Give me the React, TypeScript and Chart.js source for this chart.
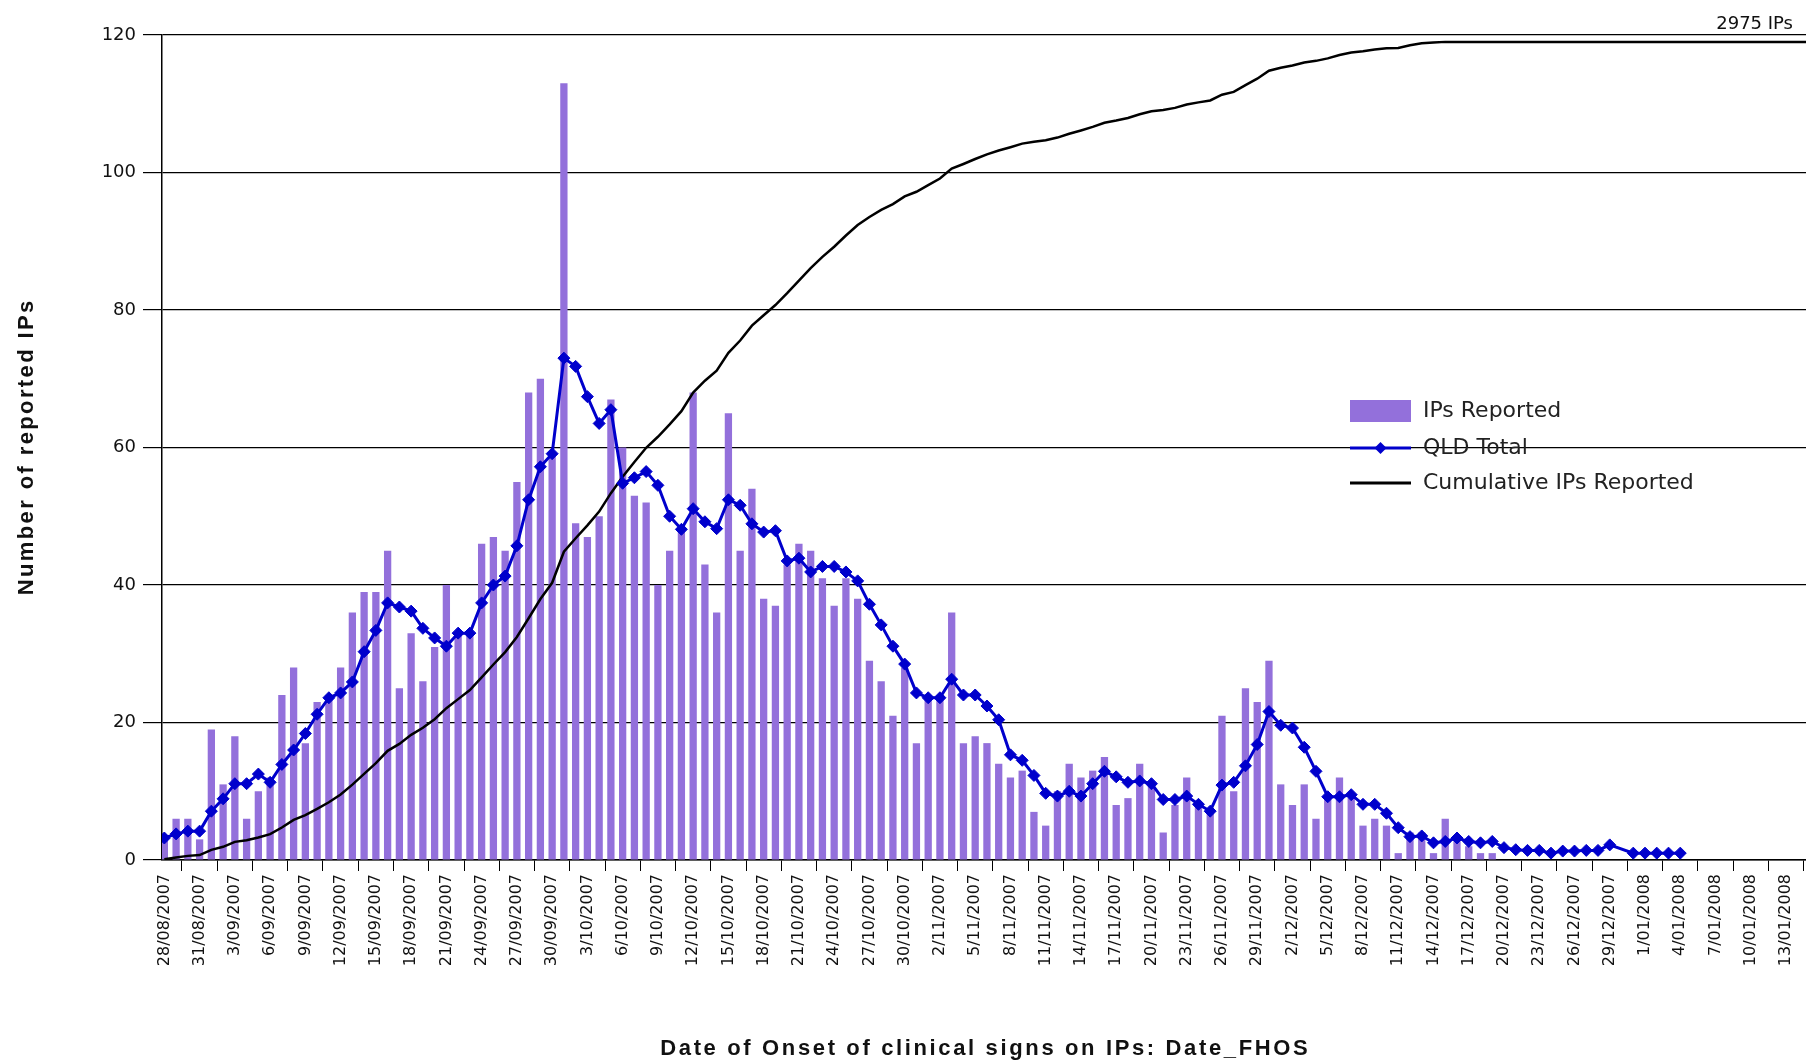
import { useEffect, useRef } from "react";
import { Chart, registerables } from "chart.js";

Chart.register(...registerables);

// x tick labels, one every 3 days starting 28/08/2007 (day index 0)
const tickLabels = [
  "28/08/2007", "31/08/2007", "3/09/2007", "6/09/2007", "9/09/2007", "12/09/2007",
  "15/09/2007", "18/09/2007", "21/09/2007", "24/09/2007", "27/09/2007", "30/09/2007",
  "3/10/2007", "6/10/2007", "9/10/2007", "12/10/2007", "15/10/2007", "18/10/2007",
  "21/10/2007", "24/10/2007", "27/10/2007", "30/10/2007", "2/11/2007", "5/11/2007",
  "8/11/2007", "11/11/2007", "14/11/2007", "17/11/2007", "20/11/2007", "23/11/2007",
  "26/11/2007", "29/11/2007", "2/12/2007", "5/12/2007", "8/12/2007", "11/12/2007",
  "14/12/2007", "17/12/2007", "20/12/2007", "23/12/2007", "26/12/2007", "29/12/2007",
  "1/01/2008", "4/01/2008", "7/01/2008", "10/01/2008", "13/01/2008",
];
const tickEveryDays = 3;

// Daily IPs reported (day 0 = 28/08/2007)
const ipsReported = [
  3, 6, 6, 3, 19, 11, 18, 6, 10, 12,
  24, 28, 17, 23, 24, 28, 36, 39, 39, 45,
  25, 33, 26, 31, 40, 33, 33, 46, 47, 45,
  55, 68, 70, 59, 113, 49, 47, 50, 67, 60,
  53, 52, 40, 45, 48, 68, 43, 36, 65, 45,
  54, 38, 37, 43, 46, 45, 41, 37, 41, 38,
  29, 26, 21, 28, 17, 24, 24, 36, 17, 18,
  17, 14, 12, 13, 7, 5, 10, 14, 12, 13,
  15, 8, 9, 14, 11, 4, 8, 12, 8, 7,
  21, 10, 25, 23, 29, 11, 8, 11, 6, 9,
  12, 9, 5, 6, 5, 1, 4, 4, 1, 6,
  3, 2, 1, 1,
];

// QLD Total (day 0 .. day 129), null = no value that day
const qldTotal = [
  3.2, 3.8, 4.2, 4.2, 7.1, 8.9, 11.1, 11.1, 12.5, 11.3,
  13.9, 16, 18.4, 21.2, 23.6, 24.3, 25.9, 30.3, 33.4, 37.4,
  36.8, 36.2, 33.7, 32.3, 31.1, 33, 33, 37.4, 40, 41.3,
  45.7, 52.4, 57.2, 59.1, 73, 71.8, 67.4, 63.5, 65.5, 54.8,
  55.6, 56.5, 54.5, 50, 48.1, 51.1, 49.2, 48.2, 52.4, 51.6,
  48.9, 47.7, 47.9, 43.5, 43.9, 41.9, 42.7, 42.7, 41.9, 40.6,
  37.2, 34.2, 31.1, 28.5, 24.3, 23.6, 23.6, 26.3, 24, 24,
  22.4, 20.4, 15.3, 14.5, 12.3, 9.7, 9.3, 10, 9.3, 11.1,
  12.9, 12.1, 11.3, 11.5, 11.1, 8.8, 8.8, 9.3, 8.1, 7.1,
  10.9, 11.3, 13.7, 16.8, 21.6, 19.6, 19.2, 16.4, 12.9, 9.2,
  9.2, 9.5, 8.1, 8.1, 6.8, 4.7, 3.4, 3.5, 2.5, 2.7,
  3.2, 2.7, 2.5, 2.7, 1.8, 1.5, 1.4, 1.4, 1, 1.3,
  1.3, 1.4, 1.4, 2.2, null, 1, 1, 1, 1, 1,
];

// Cumulative IPs reported (day 0 .. day 140)
const cumulativeIPs = [
  3, 9, 15, 18, 37, 48, 66, 72, 82, 94,
  118, 146, 163, 186, 210, 238, 274, 313, 352, 397,
  422, 455, 481, 512, 552, 585, 618, 664, 711, 756,
  811, 879, 949, 1008, 1121, 1170, 1217, 1267, 1334, 1394,
  1447, 1499, 1539, 1584, 1632, 1700, 1743, 1779, 1844, 1889,
  1943, 1981, 2018, 2061, 2107, 2152, 2193, 2230, 2271, 2309,
  2338, 2364, 2385, 2413, 2430, 2454, 2478, 2514, 2531, 2549,
  2566, 2580, 2592, 2605, 2612, 2617, 2627, 2641, 2653, 2666,
  2681, 2689, 2698, 2712, 2723, 2727, 2735, 2747, 2755, 2762,
  2783, 2793, 2818, 2841, 2870, 2881, 2889, 2900, 2906, 2915,
  2927, 2936, 2941, 2947, 2952, 2953, 2963, 2970, 2973, 2975,
  2975, 2975, 2975, 2975, 2975, 2975, 2975, 2975, 2975, 2975,
  2975, 2975, 2975, 2975, 2975, 2975, 2975, 2975, 2975, 2975,
  2975, 2975, 2975, 2975, 2975, 2975, 2975, 2975, 2975, 2975,
  2975,
];

const BAR_COLOR = "#9370DB";
const QLD_COLOR = "#0000CC";
const CUM_COLOR = "#000000";

function fillSpaced(ctx: any, text: string, x: number, y: number, target: number) {
  ctx.letterSpacing = "0px";
  const w = ctx.measureText(text).width;
  const s = Math.max(0, (target - w) / text.length);
  ctx.letterSpacing = s.toFixed(2) + "px";
  ctx.fillText(text, x + s / 2, y);
  ctx.letterSpacing = "0px";
}

const overlayPlugin = {
  id: "overlayTexts",
  afterDraw(chart: any) {
    const ctx = chart.ctx;
    const ds = chart.data.datasets;
    ctx.save();

    // total label at top right
    const total = cumulativeIPs[cumulativeIPs.length - 1];
    ctx.font = '18px "DejaVu Sans"';
    ctx.fillStyle = "#111";
    ctx.textAlign = "right";
    ctx.textBaseline = "alphabetic";
    ctx.fillText(`${total} IPs`, 1793, 29);

    // legend
    const lx = 1350, lw = 61;
    const rows = [411, 448, 483];
    ctx.fillStyle = BAR_COLOR;
    ctx.fillRect(lx, rows[0] - 11, lw, 22);
    ctx.strokeStyle = QLD_COLOR;
    ctx.lineWidth = 3;
    ctx.beginPath();
    ctx.moveTo(lx, rows[1]);
    ctx.lineTo(lx + lw, rows[1]);
    ctx.stroke();
    ctx.fillStyle = QLD_COLOR;
    ctx.beginPath();
    const cx = lx + lw / 2;
    ctx.moveTo(cx, rows[1] - 6);
    ctx.lineTo(cx + 6, rows[1]);
    ctx.lineTo(cx, rows[1] + 6);
    ctx.lineTo(cx - 6, rows[1]);
    ctx.closePath();
    ctx.fill();
    ctx.strokeStyle = CUM_COLOR;
    ctx.lineWidth = 3;
    ctx.beginPath();
    ctx.moveTo(lx, rows[2]);
    ctx.lineTo(lx + lw, rows[2]);
    ctx.stroke();

    ctx.font = '22px "DejaVu Sans"';
    ctx.fillStyle = "#222";
    ctx.textAlign = "left";
    ctx.textBaseline = "middle";
    const order = ["IPs Reported", "QLD Total", "Cumulative IPs Reported"];
    order.forEach((lab, i) => {
      const d = ds.find((x: any) => x.label === lab);
      ctx.fillText(d ? d.label : lab, 1423, rows[i]);
    });

    // axis titles
    ctx.fillStyle = "#111";
    ctx.font = 'bold 22px "Liberation Sans Narrow", "Liberation Sans", sans-serif';
    ctx.textAlign = "center";
    ctx.textBaseline = "middle";
    fillSpaced(ctx, "Date of Onset of clinical signs on IPs: Date_FHOS", 984, 1049, 650);

    ctx.save();
    ctx.translate(27, 448);
    ctx.rotate(-Math.PI / 2);
    fillSpaced(ctx, "Number of reported IPs", 0, 0, 297);
    ctx.restore();

    ctx.restore();
  },
};

export default function App() {
  const ref = useRef<HTMLCanvasElement>(null);

  useEffect(() => {
    if (!ref.current) return;
    const chart = new Chart(ref.current, {
      type: "bar",
      data: {
        datasets: [
          {
            type: "line",
            label: "QLD Total",
            data: qldTotal.map((v, i) => ({ x: i, y: v })),
            borderColor: QLD_COLOR,
            backgroundColor: QLD_COLOR,
            pointBackgroundColor: QLD_COLOR,
            pointBorderColor: QLD_COLOR,
            borderWidth: 3,
            pointStyle: "rectRot",
            pointRadius: 6,
            pointBorderWidth: 1,
            tension: 0,
            spanGaps: true,
            yAxisID: "y",
            order: 1,
          },
          {
            type: "line",
            label: "Cumulative IPs Reported",
            data: cumulativeIPs.map((v, i) => ({ x: i, y: v })),
            borderColor: CUM_COLOR,
            borderWidth: 2.5,
            pointRadius: 0,
            tension: 0,
            yAxisID: "y2",
            order: 2,
          },
          {
            type: "bar",
            label: "IPs Reported",
            data: ipsReported.map((v, i) => ({ x: i, y: v })),
            backgroundColor: BAR_COLOR,
            borderWidth: 0,
            barPercentage: 0.62,
            categoryPercentage: 1,
            yAxisID: "y",
            order: 3,
          },
        ] as any,
      },
      options: {
        animation: false,
        responsive: false,
        devicePixelRatio: 1,
        layout: { autoPadding: false, padding: { top: 35, right: 0, left: 0, bottom: 0 } },
        plugins: {
          legend: { display: false },
          tooltip: { enabled: false },
        },
        scales: {
          x: {
            type: "linear",
            min: -0.2,
            max: 139.7,
            offset: false,
            afterBuildTicks: (s: any) => {
              s.ticks = tickLabels.map((_, i) => ({ value: i * tickEveryDays }));
            },
            afterFit: (s: any) => {
              s.height = 203;
              s.paddingLeft = 0;
              s.paddingRight = 0;
            },
            ticks: {
              autoSkip: false,
              minRotation: 90,
              maxRotation: 90,
              padding: 3,
              color: "#111",
              font: { family: "DejaVu Sans", size: 16 },
              callback: (_v: any, i: number) => tickLabels[i],
            },
            grid: {
              drawOnChartArea: false,
              drawTicks: true,
              tickLength: 11,
              color: "#000",
              lineWidth: 1,
            },
            border: { display: true, color: "#000", width: 1.5 },
          },
          y: {
            min: 0,
            max: 120,
            afterFit: (s: any) => {
              s.width = 162;
            },
            ticks: {
              stepSize: 20,
              padding: 7,
              color: "#111",
              font: { family: "DejaVu Sans", size: 18 },
            },
            grid: {
              color: "#000",
              lineWidth: 1.2,
              drawTicks: true,
              tickLength: 19,
            },
            border: { display: true, color: "#000", width: 1.5 },
          },
          y2: {
            display: false,
            position: "right",
            min: 0,
            max: 3000,
          },
        } as any,
      },
      plugins: [overlayPlugin],
    });
    return () => chart.destroy();
  }, []);

  return (
    <div
      style={{
        position: "fixed",
        left: 0,
        top: 0,
        width: 1806,
        height: 1063,
        background: "#fff",
      }}
    >
      <canvas ref={ref} width={1806} height={1063} />
    </div>
  );
}
